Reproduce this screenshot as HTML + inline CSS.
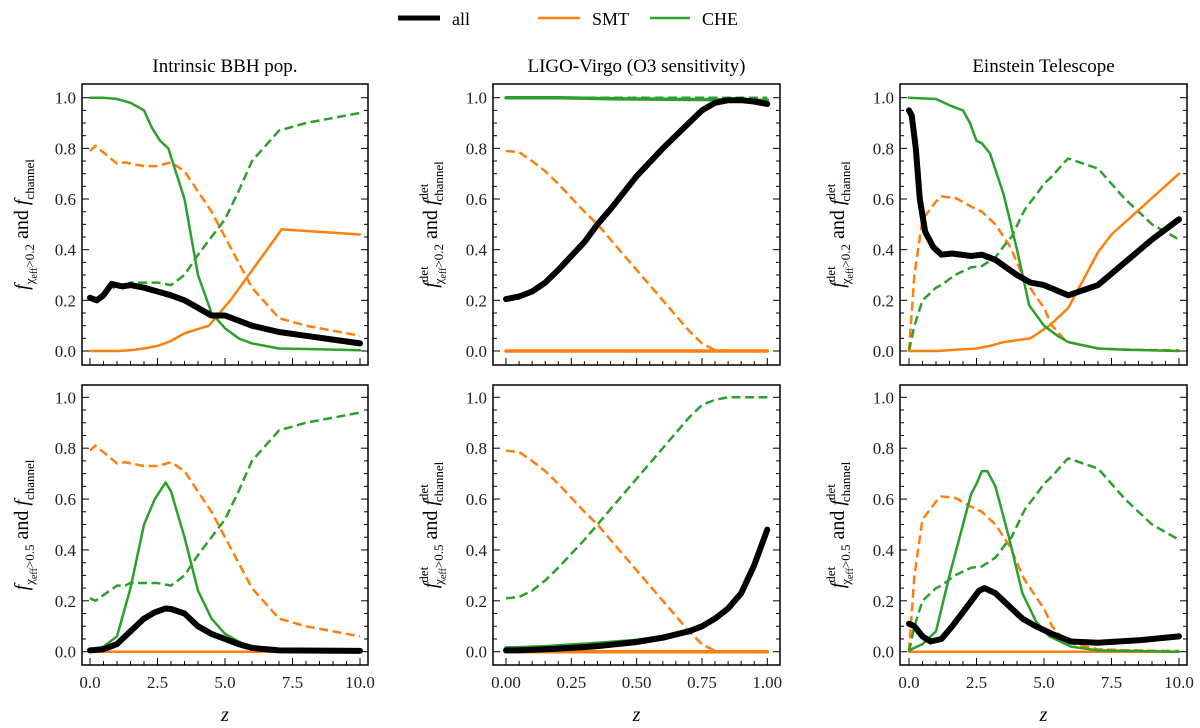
<!DOCTYPE html>
<html><head><meta charset="utf-8"><style>
body{margin:0;background:#fff}
svg{display:block;font-family:"Liberation Serif",serif}
</style></head><body>
<svg id="fig" width="1200" height="728" viewBox="0 0 1200 728">
<g id="legend">
<line x1="398" y1="18" x2="440" y2="18" stroke="#000" stroke-width="5"/>
<text x="452" y="25" font-size="18">all</text>
<line x1="538" y1="18" x2="580" y2="18" stroke="#ff7f0e" stroke-width="2.5"/>
<text x="592" y="25" font-size="18">SMT</text>
<line x1="650" y1="18" x2="690" y2="18" stroke="#2ca02c" stroke-width="2.5"/>
<text x="702" y="25" font-size="18">CHE</text>
</g>
</svg>
<script>
// ---- data ----
const zA=[0,0.25,0.5,0.8,1.2,1.5,2,2.5,3,3.5,4,4.5,5,5.5,6,7,8,9,10];
const intrAllTop=[0.21,0.2,0.22,0.265,0.255,0.26,0.25,0.235,0.22,0.2,0.17,0.14,0.14,0.12,0.1,0.075,0.06,0.045,0.03];
const zCheS=[0,0.5,1,1.5,2,2.3,2.6,2.9,3.5,4,4.5,5,5.5,6,7,8,10];
const intrCheTop=[1,1,0.995,0.98,0.95,0.88,0.83,0.8,0.6,0.3,0.15,0.09,0.05,0.03,0.01,0.008,0.003];
const zSmtS=[0,1,1.5,2,2.5,3,3.5,4.4,5.2,7.1,10];
const intrSmtTop=[0,0,0.003,0.01,0.02,0.04,0.07,0.1,0.2,0.48,0.46];
const zD=[0,0.2,1,1.3,1.5,2,2.5,3,3.5,4,4.5,5,5.5,6,7,8,9,10];
const intrSmtD=[0.79,0.81,0.74,0.745,0.74,0.73,0.73,0.745,0.71,0.63,0.55,0.45,0.35,0.25,0.13,0.1,0.08,0.06];
const intrCheD=[0.21,0.2,0.26,0.26,0.27,0.27,0.27,0.26,0.3,0.38,0.45,0.52,0.63,0.75,0.87,0.9,0.92,0.94];
const zB=[0,0.5,1,1.5,2,2.4,2.8,3,3.5,4,4.5,5,5.5,6,7,10];
const intrCheBot=[0.005,0.02,0.06,0.25,0.5,0.6,0.665,0.63,0.45,0.24,0.13,0.07,0.04,0.015,0.005,0];
const intrAllBot=[0.005,0.01,0.03,0.08,0.13,0.155,0.17,0.168,0.15,0.1,0.07,0.05,0.03,0.015,0.005,0.003];

const zM=[0,0.05,0.1,0.15,0.2,0.3,0.35,0.4,0.5,0.6,0.7,0.75,0.8,0.85,0.9,0.95,1];
const lvAllTop=[0.205,0.215,0.235,0.27,0.32,0.43,0.5,0.56,0.69,0.8,0.9,0.95,0.98,0.99,0.99,0.985,0.975];
const lvSmtD=[0.79,0.785,0.75,0.71,0.66,0.55,0.5,0.44,0.32,0.2,0.08,0.03,0.003,0,0,0,0];
const lvCheD=[0.21,0.215,0.24,0.28,0.33,0.44,0.5,0.56,0.68,0.8,0.92,0.97,0.99,1,1,1,1];
const lvCheTop=[1,1,1,1,1,0.998,0.997,0.996,0.995,0.994,0.993,0.993,0.992,0.991,0.991,0.99,0.99];
const lvCheBot=[0.015,0.016,0.018,0.02,0.023,0.03,0.033,0.037,0.045,0.06,0.085,0.1,0.13,0.17,0.23,0.34,0.48];
const lvAllBot=[0.005,0.006,0.008,0.01,0.012,0.018,0.022,0.027,0.038,0.055,0.08,0.1,0.13,0.17,0.23,0.34,0.48];

const zE=[0,0.1,0.25,0.4,0.6,0.9,1.2,1.6,2.3,2.7,3.2,3.6,4,4.5,5,5.9,7,8,9,10];
const etAllTop=[0.95,0.93,0.8,0.6,0.47,0.41,0.38,0.385,0.375,0.38,0.36,0.33,0.3,0.27,0.26,0.22,0.26,0.35,0.44,0.52];
const zEc=[0,1,1.5,2,2.26,2.5,2.7,3,3.5,4,4.45,5,5.5,5.9,7,8,10];
const etCheTop=[1,0.995,0.97,0.95,0.9,0.83,0.82,0.78,0.62,0.4,0.18,0.1,0.06,0.035,0.01,0.005,0];
const zEs=[0,1,2.5,3,3.5,4.5,5.2,5.9,7,7.5,10];
const etSmtTop=[0,0,0.01,0.02,0.035,0.05,0.1,0.17,0.39,0.46,0.7];
const zEd=[0,0.2,0.5,1,1.2,1.7,1.8,2.3,2.7,3.2,3.7,3.8,4.2,4.3,4.8,5,5.3,5.8,5.9,7,8,9,10];
const etSmtD=[0,0.3,0.52,0.59,0.61,0.605,0.6,0.57,0.55,0.5,0.42,0.4,0.3,0.28,0.2,0.17,0.1,0.04,0.035,0.01,0.006,0.004,0.003];
const etCheD=[0,0.1,0.2,0.25,0.26,0.3,0.305,0.33,0.335,0.37,0.44,0.45,0.54,0.56,0.63,0.66,0.69,0.75,0.76,0.72,0.6,0.5,0.44];
const zEb=[0,0.5,1,1.5,2,2.3,2.5,2.7,2.9,3.2,3.7,4.2,4.7,5.2,6,7,10];
const etCheBot=[0.005,0.03,0.08,0.3,0.5,0.62,0.66,0.71,0.71,0.65,0.45,0.23,0.12,0.06,0.02,0.005,0];
const zEa=[0,0.2,0.5,0.8,1.2,1.6,2.1,2.6,2.8,3.2,3.7,4.2,4.7,5.3,6,7,8.5,10];
const etAllBot=[0.11,0.1,0.06,0.04,0.05,0.1,0.17,0.24,0.25,0.23,0.18,0.13,0.1,0.07,0.04,0.035,0.045,0.06];

const xTicksZ=[0,2.5,5,7.5,10], xTickLabZ=["0.0","2.5","5.0","7.5","10.0"];
const xTicksM=[0,0.25,0.5,0.75,1], xTickLabM=["0.00","0.25","0.50","0.75","1.00"];
const yTicks=[0,0.2,0.4,0.6,0.8,1.0], yTickLab=["0.0","0.2","0.4","0.6","0.8","1.0"];
const titles=["Intrinsic BBH pop.","LIGO-Virgo (O3 sensitivity)","Einstein Telescope"];

const NS="http://www.w3.org/2000/svg", svg=document.getElementById('fig');
const ORANGE="#ff7f0e", GREEN="#2ca02c";
const cols=[{b0:82,b1:368,x0:90,x1:360,xmax:10},{b0:493,b1:780,x0:506,x1:767.3,xmax:1},{b0:900,b1:1187,x0:909,x1:1179,xmax:10}];
const rows=[{b0:84,b1:365,y1:97.7,y0:351},{b0:385,b1:665,y1:397.3,y0:651.7}];
function mk(t,a,p){const e=document.createElementNS(NS,t);for(const k in a)e.setAttribute(k,a[k]);(p||svg).appendChild(e);return e;}

function panel(ci,ri,series,label){
  const c=cols[ci],r=rows[ri];
  const xs=v=>c.x0+(v/c.xmax)*(c.x1-c.x0), ys=v=>r.y0-v*(r.y0-r.y1);
  const g=mk('g',{});
  
  
  const cp='cp'+ci+ri;
  const d=mk('clipPath',{id:cp},g);mk('rect',{x:c.b0,y:r.b0,width:c.b1-c.b0,height:r.b1-r.b0},d);
  const lg=mk('g',{'clip-path':'url(#'+cp+')'},g);
  series.forEach(s=>{
    const pts=s.x.map((v,i)=>xs(v).toFixed(1)+','+ys(s.y[i]).toFixed(1)).join(' ');
    const pl=mk('polyline',{points:pts,fill:'none',stroke:s.c,'stroke-width':s.w,'stroke-linejoin':'round','stroke-linecap':s.dash?'butt':'round'},lg);
    if(s.dash)pl.setAttribute('stroke-dasharray','9,4.5');
    
    
  });
  const fr=mk('rect',{x:c.b0,y:r.b0,width:c.b1-c.b0,height:r.b1-r.b0,fill:'none',stroke:'#000','stroke-width':1.5},g);
  
  
  for(let v=0;v<=1.0001;v+=0.05){
    const major=Math.abs(v*5-Math.round(v*5))<1e-6, L=major?7:4, y=ys(v);
    mk('line',{x1:c.b0,x2:c.b0+L,y1:y,y2:y,stroke:'#000','stroke-width':1},g);
    mk('line',{x1:c.b1,x2:c.b1-L,y1:y,y2:y,stroke:'#000','stroke-width':1},g);
  }
  yTicks.forEach((v,i)=>{const t=mk('text',{x:c.b0-6,y:ys(v)+6,'text-anchor':'end','font-size':17,fill:'#222'},g);t.textContent=yTickLab[i];
    });
  const minorStep=c.xmax/20;
  for(let k=0;k<=20;k++){const v=k*minorStep,L=(k%5===0)?7:4,x=xs(v);
    mk('line',{x1:x,x2:x,y1:r.b1,y2:r.b1-L,stroke:'#000','stroke-width':1},g);}
  if(ri===1){
    const tk=ci===1?xTicksM:xTicksZ, tl=ci===1?xTickLabM:xTickLabZ;
    tk.forEach((v,i)=>{const t=mk('text',{x:xs(v),y:r.b1+23,'text-anchor':'middle','font-size':17,fill:'#222'},g);t.textContent=tl[i];
      });
    const zl=mk('text',{x:(c.b0+c.b1)/2,y:721,'text-anchor':'middle','font-size':20,'font-style':'italic'},g);zl.textContent='z';
    
  } else {
    const tt=mk('text',{x:(c.b0+c.b1)/2,y:72,'text-anchor':'middle','font-size':19},g);tt.textContent=titles[ci];
    
  }
  const cy=(r.b0+r.b1)/2, lx=ci===0?c.b0-54:c.b0-56;
  const yl=mk('text',{transform:`translate(${lx},${cy}) rotate(-90)`,'text-anchor':'middle','font-size':20},g);
  
  const det=ci>0;
  yl.innerHTML=`<tspan font-style="italic">f</tspan>`+(det?`<tspan font-size="13" dy="-9">det</tspan><tspan font-size="13" dx="-18" dy="15">χ</tspan>`:`<tspan font-size="13" dy="6">χ</tspan>`)+
   `<tspan font-size="10" dy="3">eff</tspan><tspan font-size="13" dy="-3">&gt;${label}</tspan><tspan dy="-6"> and </tspan><tspan font-style="italic">f</tspan>`+
   (det?`<tspan font-size="13" dy="-9">det</tspan><tspan font-size="13" dx="-18" dy="15">channel</tspan>`:`<tspan font-size="13" dy="6">channel</tspan>`);
}
const S=(x,y,c,w,dash,n)=>({x,y,c,w,dash,n});
panel(0,0,[S(zD,intrSmtD,ORANGE,2.5,1,'smt-dashed'),S(zD,intrCheD,GREEN,2.5,1,'che-dashed'),S(zSmtS,intrSmtTop,ORANGE,2.5,0,'smt-line'),S(zCheS,intrCheTop,GREEN,2.5,0,'che-line'),S(zA,intrAllTop,'#000',6,0,'all-line')],'0.2');
panel(0,1,[S(zD,intrSmtD,ORANGE,2.5,1,'smt-dashed'),S(zD,intrCheD,GREEN,2.5,1,'che-dashed'),S([0,10],[0,0],ORANGE,2.5,0,'smt-line'),S(zB,intrCheBot,GREEN,2.5,0,'che-line'),S(zB,intrAllBot,'#000',6,0,'all-line')],'0.5');
panel(1,0,[S(zM,lvSmtD,ORANGE,2.5,1,'smt-dashed'),S(zM,lvCheD.map(()=>1),GREEN,2.5,1,'che-dashed'),S([0,1],[0,0],ORANGE,3.5,0,'smt-line'),S(zM,lvCheTop,GREEN,3.5,0,'che-line'),S(zM,lvAllTop,'#000',6,0,'all-line')],'0.2');
panel(1,1,[S(zM,lvSmtD,ORANGE,2.5,1,'smt-dashed'),S(zM,lvCheD,GREEN,2.5,1,'che-dashed'),S([0,1],[0,0],ORANGE,3.5,0,'smt-line'),S(zM,lvCheBot,GREEN,3.5,0,'che-line'),S(zM,lvAllBot,'#000',6,0,'all-line')],'0.5');
panel(2,0,[S(zEd,etSmtD,ORANGE,2.5,1,'smt-dashed'),S(zEd,etCheD,GREEN,2.5,1,'che-dashed'),S(zEs,etSmtTop,ORANGE,2.5,0,'smt-line'),S(zEc,etCheTop,GREEN,2.5,0,'che-line'),S(zE,etAllTop,'#000',6,0,'all-line')],'0.2');
panel(2,1,[S(zEd,etSmtD,ORANGE,2.5,1,'smt-dashed'),S(zEd,etCheD,GREEN,2.5,1,'che-dashed'),S([0,10],[0,0],ORANGE,2.5,0,'smt-line'),S(zEb,etCheBot,GREEN,2.5,0,'che-line'),S(zEa,etAllBot,'#000',6,0,'all-line')],'0.5');
</script>
</body></html>
